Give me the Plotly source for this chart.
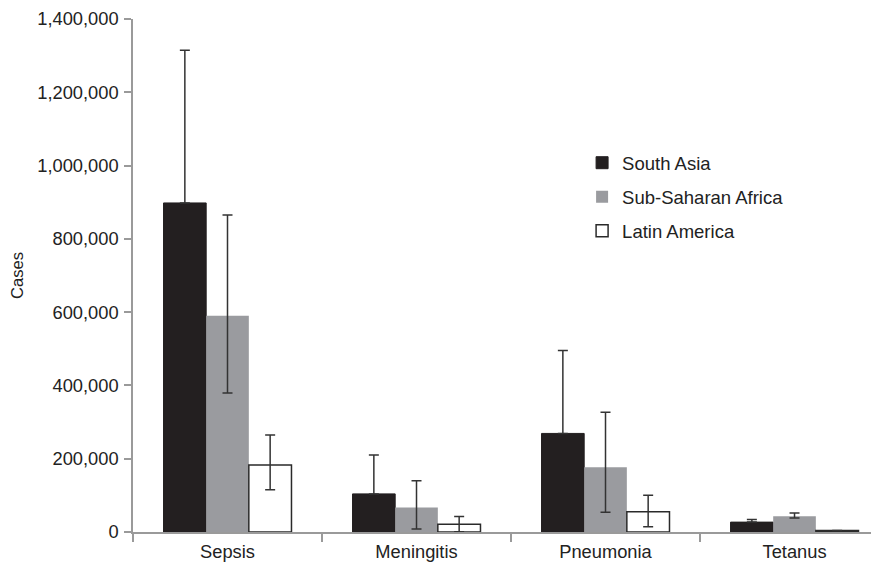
import plotly.graph_objects as go

categories = ["Sepsis", "Meningitis", "Pneumonia", "Tetanus"]

south_asia = [898000, 104000, 269000, 27000]
south_asia_upper = [1315000, 210000, 495000, 34000]
south_asia_lower = [898000, 104000, 269000, 27000]

ssa = [590000, 67000, 177000, 43000]
ssa_upper = [865000, 140000, 327000, 52000]
ssa_lower = [379000, 8000, 54000, 38000]

latin = [183000, 21000, 55000, 4000]
latin_upper = [265000, 42000, 100000, 4000]
latin_lower = [115000, 1000, 14000, 4000]

y_ticks = [0, 200000, 400000, 600000, 800000, 1000000, 1200000, 1400000]

FONT = "Liberation Sans, Arial, sans-serif"
ERR = "#333333"
TXT = "#222222"


def plus(v, up):
    return [u - x for x, u in zip(v, up)]


def minus(v, lo):
    return [x - l for x, l in zip(v, lo)]


fig = go.Figure()
fig.add_trace(go.Bar(
    name="South Asia", x=categories, y=south_asia, legendgroup="a",
    marker=dict(color="#231f20", line=dict(color="#231f20", width=1)),
    error_y=dict(type="data", symmetric=False,
                 array=plus(south_asia, south_asia_upper),
                 arrayminus=minus(south_asia, south_asia_lower),
                 color=ERR, thickness=1.5, width=5),
))
fig.add_trace(go.Bar(
    name="Sub-Saharan Africa", x=categories, y=ssa, legendgroup="b",
    marker=dict(color="#9a9b9f", line=dict(width=0)),
    error_y=dict(type="data", symmetric=False,
                 array=plus(ssa, ssa_upper),
                 arrayminus=minus(ssa, ssa_lower),
                 color=ERR, thickness=1.5, width=5),
))
fig.add_trace(go.Bar(
    name="Latin America", x=categories, y=latin, legendgroup="c",
    marker=dict(color="#ffffff", line=dict(color="#2a2a2a", width=1.5)),
    error_y=dict(type="data", symmetric=False,
                 array=plus(latin, latin_upper),
                 arrayminus=minus(latin, latin_lower),
                 color=ERR, thickness=1.5, width=5),
))

fig.update_layout(
    width=871, height=554,
    margin=dict(l=125, r=0, t=11, b=30),
    paper_bgcolor="white", plot_bgcolor="white",
    barmode="group", bargap=0.323, bargroupgap=0,
    font=dict(family=FONT, size=18, color=TXT),
    showlegend=True,
    legend=dict(x=0.602, y=0.756, xanchor="left", yanchor="top",
                font=dict(size=18.5, family=FONT, color=TXT),
                tracegroupgap=7, bgcolor="rgba(0,0,0,0)"),
    xaxis=dict(
        range=[-0.5, 3.447], showline=True, linecolor="#9a9a9a", linewidth=1.5,
        ticks="outside", tickson="boundaries", ticklen=8, tickcolor="#9a9a9a",
        tickwidth=1.5, showgrid=False, zeroline=False, ticklabelstandoff=2,
        tickfont=dict(size=18.3, family=FONT, color=TXT),
    ),
    yaxis=dict(
        range=[0, 1400000], tickvals=y_ticks, tickformat=",d",
        showline=True, linecolor="#9a9a9a", linewidth=1.5,
        ticks="outside", ticklen=7, tickcolor="#9a9a9a", tickwidth=1.5,
        showgrid=False, zeroline=False, ticklabelstandoff=2,
        tickfont=dict(size=18.3, family=FONT, color=TXT),
        title=dict(text="Cases", font=dict(size=16.5, family=FONT, color=TXT),
                   standoff=15),
    ),
)

fig.write_html("out.html")
